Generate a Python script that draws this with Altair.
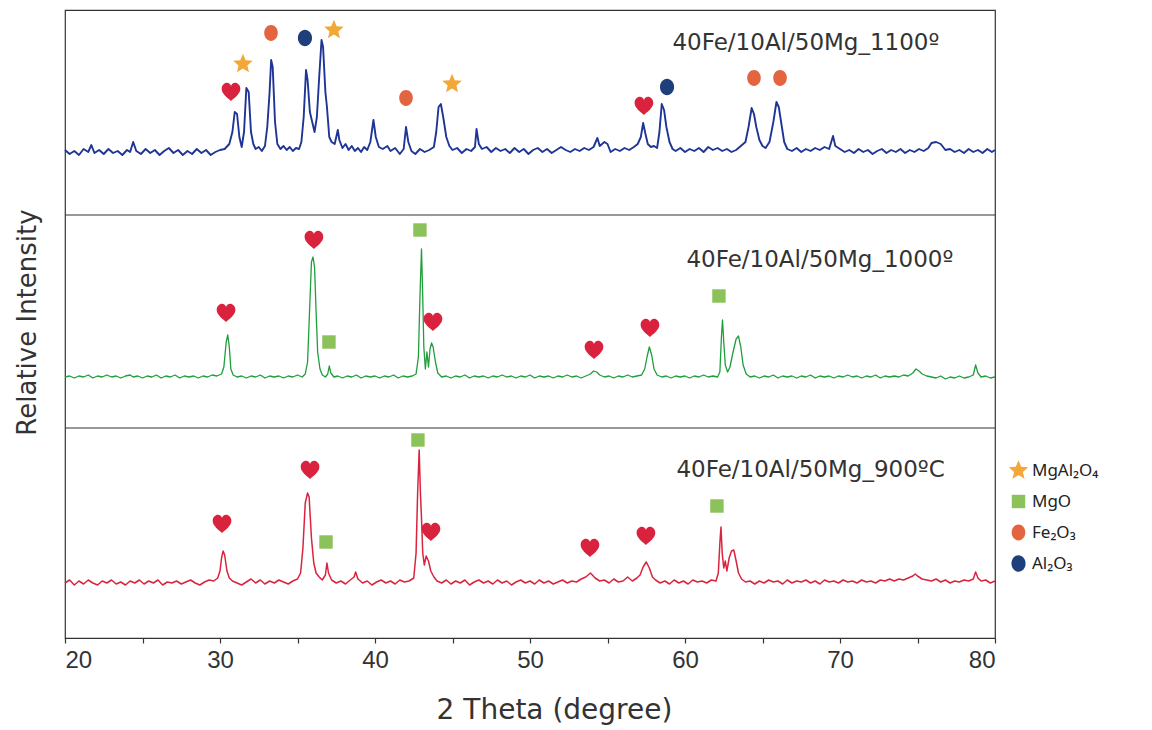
import altair as alt
import pandas as pd

# ---------------- data (2-theta in degrees, relative intensity above each pattern's baseline) -------------
PATTERN_1100 = [
    (20.0, 2), (20.3, -2), (20.6, 1), (20.9, -3), (21.2, 3), (21.5, 0), (21.7, 7), (21.9, -1), (22.2, 2),
    (22.5, -2), (22.8, 3), (23.1, -1), (23.4, 1), (23.7, -3), (24.0, 2), (24.2, 0), (24.4, 10), (24.6, 1),
    (24.9, -2), (25.2, 3), (25.5, -1), (25.8, 2), (26.1, -3), (26.4, 1), (26.7, 4), (27.0, -1), (27.3, 2),
    (27.6, -3), (27.9, 1), (28.2, -2), (28.5, 3), (28.8, -1), (29.1, 2), (29.4, -3), (29.7, 0), (30.0, 2),
    (30.3, 3), (30.6, 8), (30.8, 20), (30.95, 40), (31.1, 38), (31.25, 15), (31.4, 5), (31.55, 20),
    (31.7, 64), (31.85, 60), (32.0, 20), (32.15, 8), (32.3, 3), (32.5, 5), (32.7, 1), (32.9, 6), (33.05, 25),
    (33.2, 60), (33.3, 92), (33.4, 85), (33.55, 30), (33.7, 8), (33.9, 3), (34.1, 6), (34.3, 2), (34.5, 5),
    (34.7, 1), (34.9, 4), (35.1, 3), (35.25, 10), (35.4, 35), (35.55, 82), (35.65, 72), (35.8, 40),
    (35.95, 30), (36.1, 20), (36.25, 35), (36.4, 75), (36.55, 112), (36.65, 105), (36.8, 60), (36.9, 45),
    (37.05, 15), (37.2, 10), (37.4, 8), (37.6, 22), (37.7, 12), (37.9, 4), (38.1, 8), (38.3, 2), (38.5, 6),
    (38.7, 1), (38.9, 4), (39.1, 0), (39.3, 5), (39.5, 2), (39.7, 10), (39.9, 32), (40.05, 15), (40.25, 5),
    (40.5, 3), (40.8, 6), (41.0, 1), (41.3, 4), (41.6, -2), (41.85, 3), (42.0, 25), (42.15, 10), (42.35, 1),
    (42.6, -2), (42.9, 3), (43.2, 0), (43.5, 2), (43.8, 5), (43.95, 20), (44.1, 45), (44.25, 48), (44.4, 35),
    (44.6, 15), (44.8, 6), (45.0, 2), (45.3, 4), (45.6, -1), (45.9, 3), (46.2, 1), (46.45, 5), (46.55, 23),
    (46.7, 8), (46.9, 3), (47.2, 5), (47.5, 0), (47.8, 4), (48.1, 1), (48.4, 3), (48.7, -1), (49.0, 4),
    (49.3, 0), (49.6, 3), (49.9, -2), (50.2, 2), (50.5, 4), (50.8, 0), (51.1, 3), (51.4, -1), (51.7, 2),
    (52.0, 5), (52.3, 2), (52.6, 0), (52.9, 3), (53.2, 1), (53.5, 4), (53.8, 2), (54.1, 5), (54.35, 14),
    (54.5, 6), (54.8, 10), (55.0, 8), (55.2, 0), (55.5, 3), (55.8, 1), (56.1, 4), (56.4, 2), (56.7, 5),
    (56.95, 8), (57.15, 15), (57.3, 29), (57.45, 18), (57.6, 8), (57.8, 5), (58.0, 6), (58.2, 4), (58.35, 20),
    (58.5, 48), (58.65, 42), (58.8, 25), (59.0, 10), (59.2, 3), (59.4, 1), (59.7, 4), (60.0, 0), (60.3, 3),
    (60.6, 1), (60.9, 4), (61.2, 0), (61.5, 5), (61.8, 2), (62.1, 4), (62.4, 1), (62.7, 3), (63.0, 0),
    (63.3, 2), (63.6, 6), (63.9, 10), (64.1, 25), (64.3, 44), (64.45, 38), (64.6, 25), (64.8, 12), (65.0, 6),
    (65.2, 4), (65.45, 10), (65.7, 30), (65.9, 50), (66.05, 45), (66.25, 25), (66.4, 10), (66.6, 3),
    (66.9, 1), (67.2, 4), (67.5, 0), (67.8, 3), (68.1, 1), (68.4, 4), (68.7, 2), (69.0, 5), (69.3, 3),
    (69.55, 16), (69.7, 6), (70.0, 3), (70.3, 0), (70.6, 2), (70.9, -1), (71.2, 3), (71.5, 0), (71.8, 2),
    (72.1, -2), (72.4, 1), (72.7, 3), (73.0, -1), (73.3, 2), (73.6, 0), (73.9, 3), (74.2, -1), (74.5, 2),
    (74.8, 0), (75.1, 3), (75.4, 1), (75.7, 4), (75.9, 9), (76.2, 10), (76.5, 8), (76.8, 2), (77.1, 3),
    (77.4, 0), (77.7, 2), (78.0, -1), (78.3, 3), (78.6, 0), (78.9, 2), (79.2, -1), (79.5, 3), (79.8, 0),
    (80.0, 2),
]

PATTERN_1000 = [
    (20.0, 0), (20.3, 1), (20.6, -1), (20.9, 1), (21.2, 0), (21.5, 2), (21.8, -1), (22.1, 1), (22.4, 0),
    (22.7, 2), (23.0, 0), (23.3, 1), (23.6, -1), (23.9, 1), (24.2, 2), (24.4, 0), (24.7, 1), (25.0, -1),
    (25.3, 1), (25.6, 0), (25.9, 2), (26.2, -1), (26.5, 1), (26.8, 0), (27.1, 2), (27.4, -1), (27.7, 1),
    (28.0, 0), (28.3, 1), (28.6, -1), (28.9, 1), (29.2, 0), (29.5, 2), (29.8, 1), (30.1, 3), (30.25, 10),
    (30.4, 35), (30.5, 42), (30.6, 30), (30.7, 8), (30.85, 2), (31.1, 0), (31.4, 1), (31.7, -1), (32.0, 1),
    (32.3, 0), (32.6, 2), (32.9, -1), (33.2, 1), (33.5, 0), (33.8, 1), (34.1, -1), (34.4, 1), (34.7, 0),
    (35.0, 2), (35.3, 0), (35.5, 3), (35.65, 15), (35.8, 75), (35.9, 115), (36.0, 120), (36.1, 110),
    (36.2, 65), (36.3, 25), (36.45, 8), (36.6, 2), (36.8, 0), (36.95, 3), (37.05, 11), (37.15, 4), (37.35, 0),
    (37.6, 1), (37.9, -1), (38.2, 1), (38.5, 0), (38.8, 2), (39.1, -1), (39.4, 1), (39.7, 0), (40.0, 1),
    (40.3, -1), (40.6, 1), (40.9, 0), (41.2, 2), (41.5, -1), (41.8, 1), (42.1, 0), (42.4, 1), (42.65, 3),
    (42.8, 20), (42.9, 80), (43.0, 128), (43.08, 80), (43.15, 30), (43.25, 8), (43.35, 25), (43.45, 10),
    (43.55, 28), (43.65, 34), (43.75, 30), (43.9, 15), (44.05, 4), (44.3, 0), (44.6, 1), (44.9, -1),
    (45.2, 1), (45.5, 0), (45.8, 2), (46.1, -1), (46.4, 1), (46.7, 0), (47.0, 1), (47.3, -1), (47.6, 1),
    (47.9, 0), (48.2, 2), (48.5, 0), (48.8, 1), (49.1, -1), (49.4, 1), (49.7, 0), (50.0, 2), (50.3, -1),
    (50.6, 1), (50.9, 0), (51.2, 1), (51.5, -1), (51.8, 1), (52.1, 0), (52.4, 2), (52.7, 0), (53.0, 1),
    (53.3, -1), (53.6, 1), (53.9, 3), (54.1, 6), (54.3, 5), (54.5, 2), (54.8, 0), (55.1, 1), (55.4, -1),
    (55.7, 1), (56.0, 0), (56.3, 2), (56.6, 0), (56.9, 1), (57.2, 2), (57.4, 8), (57.55, 20), (57.7, 30),
    (57.85, 22), (58.0, 8), (58.2, 2), (58.5, 0), (58.8, 1), (59.1, -1), (59.4, 1), (59.7, 0), (60.0, 1),
    (60.3, -1), (60.6, 1), (60.9, 0), (61.2, 2), (61.5, 0), (61.8, 1), (62.1, 0), (62.25, 5), (62.35, 40),
    (62.42, 57), (62.5, 35), (62.6, 12), (62.75, 5), (62.9, 10), (63.1, 25), (63.3, 38), (63.45, 41),
    (63.6, 30), (63.75, 12), (63.95, 3), (64.2, 0), (64.5, 1), (64.8, -1), (65.1, 1), (65.4, 0), (65.7, 2),
    (66.0, -1), (66.3, 1), (66.6, 0), (66.9, 1), (67.2, -1), (67.5, 1), (67.8, 0), (68.1, 2), (68.4, -1),
    (68.7, 1), (69.0, 0), (69.3, 1), (69.6, -1), (69.9, 1), (70.2, 0), (70.5, 2), (70.8, 0), (71.1, 1),
    (71.4, -1), (71.7, 1), (72.0, 0), (72.3, 2), (72.6, -1), (72.9, 1), (73.2, 0), (73.5, 1), (73.8, 0),
    (74.1, 2), (74.4, 1), (74.7, 4), (74.9, 8), (75.1, 6), (75.3, 3), (75.6, 1), (75.9, 0), (76.2, -1),
    (76.5, 1), (76.8, -2), (77.1, 0), (77.4, -1), (77.7, 1), (78.0, -1), (78.3, 0), (78.6, 2), (78.75, 12),
    (78.9, 4), (79.1, 0), (79.4, 1), (79.7, -1), (80.0, 0),
]

PATTERN_900 = [
    (20.0, 0), (20.3, 3), (20.6, -2), (20.9, 2), (21.2, -1), (21.5, 3), (21.8, 0), (22.1, -2), (22.4, 2),
    (22.7, 0), (23.0, 3), (23.3, -1), (23.6, 1), (23.9, -2), (24.2, 2), (24.5, 0), (24.8, 3), (25.1, -1),
    (25.4, 2), (25.7, 0), (26.0, 3), (26.3, -2), (26.6, 1), (26.9, 0), (27.2, 2), (27.5, -1), (27.8, 1),
    (28.1, 3), (28.4, 0), (28.7, -2), (29.0, 1), (29.3, 3), (29.6, 2), (29.85, 5), (30.0, 12), (30.1, 25),
    (30.2, 32), (30.3, 28), (30.45, 12), (30.6, 5), (30.8, 2), (31.1, 0), (31.4, -2), (31.7, 1), (32.0, 4),
    (32.3, 0), (32.6, 3), (32.9, -1), (33.2, 2), (33.5, 0), (33.8, 3), (34.1, 1), (34.4, -1), (34.7, 2),
    (35.0, 4), (35.2, 10), (35.35, 35), (35.5, 80), (35.65, 90), (35.75, 86), (35.9, 45), (36.05, 20),
    (36.2, 10), (36.4, 6), (36.6, 3), (36.8, 8), (36.9, 20), (37.0, 10), (37.2, 3), (37.5, 0), (37.8, 2),
    (38.1, -1), (38.4, 3), (38.65, 6), (38.75, 11), (38.9, 4), (39.2, 0), (39.5, 2), (39.8, -2), (40.1, 1),
    (40.4, 3), (40.7, 0), (41.0, 2), (41.3, -1), (41.6, 3), (41.9, 1), (42.2, 2), (42.5, 5), (42.65, 30),
    (42.75, 90), (42.85, 133), (42.93, 90), (43.0, 65), (43.08, 30), (43.18, 18), (43.3, 27), (43.45, 22),
    (43.6, 12), (43.8, 6), (44.0, 2), (44.3, 0), (44.6, 3), (44.9, -1), (45.2, 2), (45.5, 0), (45.8, 3),
    (46.1, -2), (46.4, 1), (46.7, 3), (47.0, 0), (47.3, 2), (47.6, -1), (47.9, 3), (48.2, 0), (48.5, 2),
    (48.8, -2), (49.1, 1), (49.4, 3), (49.7, 0), (50.0, 2), (50.3, -1), (50.6, 3), (50.9, 0), (51.2, 2),
    (51.5, -1), (51.8, 1), (52.1, 3), (52.4, 0), (52.7, 2), (53.0, 1), (53.3, 4), (53.6, 6), (53.9, 10),
    (54.2, 5), (54.5, 2), (54.8, 3), (55.1, 0), (55.4, 4), (55.7, 1), (56.0, 2), (56.3, 6), (56.6, 2),
    (56.9, 5), (57.1, 8), (57.3, 16), (57.5, 21), (57.7, 15), (57.9, 6), (58.1, 3), (58.4, 0), (58.7, 2),
    (59.0, -1), (59.3, 3), (59.6, 0), (59.9, 2), (60.2, -1), (60.5, 3), (60.8, 1), (61.1, 2), (61.4, 0),
    (61.7, 3), (62.0, 2), (62.15, 10), (62.25, 40), (62.32, 56), (62.4, 30), (62.5, 15), (62.6, 22),
    (62.7, 12), (62.85, 25), (63.0, 32), (63.15, 33), (63.3, 22), (63.45, 10), (63.65, 4), (63.9, 1),
    (64.2, 2), (64.5, -1), (64.8, 2), (65.1, 0), (65.4, 3), (65.7, 1), (66.0, 2), (66.3, -1), (66.6, 3),
    (66.9, 0), (67.2, 2), (67.5, 1), (67.8, 3), (68.1, 0), (68.4, 2), (68.7, -1), (69.0, 3), (69.3, 1),
    (69.6, 2), (69.9, 0), (70.2, 3), (70.5, 1), (70.8, 2), (71.1, 0), (71.4, 3), (71.7, 1), (72.0, 2),
    (72.3, 0), (72.6, 3), (72.9, 2), (73.2, 4), (73.5, 2), (73.8, 4), (74.1, 3), (74.4, 5), (74.7, 7),
    (74.85, 9), (75.0, 7), (75.3, 4), (75.6, 3), (75.9, 2), (76.2, 4), (76.5, 1), (76.8, 3), (77.1, 0),
    (77.4, 2), (77.7, 1), (78.0, 3), (78.3, 2), (78.6, 4), (78.75, 11), (78.9, 5), (79.1, 2), (79.4, 3),
    (79.7, 0), (80.0, 2),
]

# phase markers: (2-theta, height above the pattern's baseline, phase)
MARKERS_1100 = [
    (30.71, 60, "Fe"), (31.48, 88, "MgAl₂O₄"), (33.29, 119, "Fe₂O₃"), (35.48, 114, "Al₂O₃"),
    (37.35, 122, "MgAl₂O₄"), (42.0, 54, "Fe₂O₃"), (44.97, 68, "MgAl₂O₄"), (57.35, 46, "Fe"),
    (58.84, 65, "Al₂O₃"), (64.45, 74, "Fe₂O₃"), (66.13, 74, "Fe₂O₃"),
]
MARKERS_1000 = [
    (30.39, 64, "Fe"), (36.06, 137, "Fe"), (37.03, 35, "MgO"), (42.9, 147, "MgO"),
    (43.74, 55, "Fe"), (54.13, 27, "Fe"), (57.74, 49, "Fe"), (62.19, 81, "MgO"),
]
MARKERS_900 = [
    (30.13, 59, "Fe"), (35.81, 113, "Fe"), (36.84, 41, "MgO"), (42.77, 143, "MgO"),
    (43.61, 51, "Fe"), (53.87, 35, "Fe"), (57.48, 47, "Fe"), (62.06, 77, "MgO"),
]

SAMPLES = ["1100", "1000", "900"]
SAMPLE_LABELS = ["40Fe/10Al/50Mg_1100º", "40Fe/10Al/50Mg_1000º", "40Fe/10Al/50Mg_900ºC"]
LABEL_TTH = [67.8, 68.7, 68.1]
LABEL_HEIGHT = [109, 117, 113]
LINE_COLORS = ["#1f3596", "#1f9e3c", "#d9243f"]
LINE_WIDTHS = [1.9, 1.3, 1.5]

PHASES = ["MgAl₂O₄", "MgO", "Fe₂O₃", "Al₂O₃"]
PHASE_COLORS = ["#f2a838", "#8cc25a", "#e2653f", "#1f3f7c"]
PHASE_SIZES = [420, 180, 250, 270]

# ---------------- layout helpers ----------------
BASE = {"1100": 486, "1000": 261, "900": 55}   # vertical stacking offsets of the three patterns
DIVIDERS = [210, 423]

STAR = ("M0,-1L0.265,-0.364L0.951,-0.309L0.428,0.139L0.588,0.809L0,0.45L-0.588,0.809"
        "L-0.428,0.139L-0.951,-0.309L-0.265,-0.364Z")
OVAL = ("M0,-1C0.475,-1,0.86,-0.552,0.86,0C0.86,0.552,0.475,1,0,1"
        "C-0.475,1,-0.86,0.552,-0.86,0C-0.86,-0.552,-0.475,-1,0,-1Z")
HEART = ("M0,0.95C-0.35,0.65,-1,0.2,-1,-0.35C-1,-0.75,-0.7,-1,-0.45,-1C-0.2,-1,-0.05,-0.85,0,-0.65"
         "C0.05,-0.85,0.2,-1,0.45,-1C0.7,-1,1,-0.75,1,-0.35C1,0.2,0.35,0.65,0,0.95Z")

patterns = {"1100": PATTERN_1100, "1000": PATTERN_1000, "900": PATTERN_900}
markers = {"1100": MARKERS_1100, "1000": MARKERS_1000, "900": MARKERS_900}

line_rows, mark_rows = [], []
for s in SAMPLES:
    for t, v in patterns[s]:
        line_rows.append({"sample": s, "tth": t, "intensity": v, "base": BASE[s]})
    for t, v, p in markers[s]:
        mark_rows.append({"sample": s, "tth": t, "intensity": v, "base": BASE[s], "phase": p})
lines_df = pd.DataFrame(line_rows)
marks_df = pd.DataFrame(mark_rows)
labels_df = pd.DataFrame({
    "sample": SAMPLES, "label": SAMPLE_LABELS, "tth": LABEL_TTH,
    "intensity": LABEL_HEIGHT, "base": [BASE[s] for s in SAMPLES],
})
div_df = pd.DataFrame({"y": DIVIDERS})

x_scale = alt.Scale(domain=[20, 80], nice=False, zero=False)
y_scale = alt.Scale(domain=[0, 628], nice=False, zero=False)

x_axis = alt.Axis(
    values=list(range(20, 81, 5)), labelExpr="datum.value % 10 == 0 ? datum.label : ''",
    grid=False, domain=False, tickSize=5, tickColor="#333", tickWidth=1.2,
    labelFont="Liberation Sans", labelFontSize=24, labelColor="#333", labelPadding=5,
    title="2 Theta (degree)", titleFont="DejaVu Sans", titleFontSize=28, titleFontWeight="normal",
    titleColor="#333", titleX=489, titleY=80, titleBaseline="alphabetic", titleAlign="center",
)
y_axis = alt.Axis(
    labels=False, ticks=False, domain=False, grid=False,
    title="Relative Intensity", titleFont="DejaVu Sans", titleFontSize=26, titleFontWeight="normal",
    titleColor="#333", titleX=-38, titleY=312, titleAngle=270, titleAlign="center", titleBaseline="middle",
)

base = alt.Chart(lines_df)

line_layers = []
for s, c, w in zip(SAMPLES, LINE_COLORS, LINE_WIDTHS):
    line_layers.append(
        base.transform_filter(alt.datum.sample == s)
        .transform_calculate(y="datum.intensity + datum.base")
        .mark_line(color=c, strokeWidth=w, strokeJoin="round")
        .encode(
            x=alt.X("tth:Q", scale=x_scale, axis=x_axis),
            y=alt.Y("y:Q", scale=y_scale, axis=y_axis),
            order="tth:Q",
        )
    )

dividers = alt.Chart(div_df).mark_rule(color="#333", strokeWidth=1.2).encode(y=alt.Y("y:Q", scale=y_scale))

hearts = (
    alt.Chart(marks_df)
    .transform_filter(alt.datum.phase == "Fe")
    .transform_calculate(y="datum.intensity + datum.base")
    .mark_point(shape=HEART, filled=True, color="#d9223d", size=350, opacity=1, strokeWidth=0)
    .encode(x=alt.X("tth:Q", scale=x_scale), y=alt.Y("y:Q", scale=y_scale))
)

legend = alt.Legend(
    title=None, orient="none", legendX=943, legendY=450, padding=0,
    labelFont="Noto Sans", labelFontSize=17, labelColor="#222", labelOffset=3,
    symbolSize=260, symbolStrokeWidth=0, symbolOpacity=1, rowPadding=13,
)
phase_points = (
    alt.Chart(marks_df)
    .transform_filter(alt.datum.phase != "Fe")
    .transform_calculate(y="datum.intensity + datum.base")
    .mark_point(filled=True, opacity=1, strokeWidth=0)
    .encode(
        x=alt.X("tth:Q", scale=x_scale),
        y=alt.Y("y:Q", scale=y_scale),
        color=alt.Color("phase:N", scale=alt.Scale(domain=PHASES, range=PHASE_COLORS), legend=legend),
        shape=alt.Shape("phase:N", scale=alt.Scale(domain=PHASES, range=[STAR, "square", OVAL, OVAL]),
                        legend=legend),
        size=alt.Size("phase:N", scale=alt.Scale(type="ordinal", domain=PHASES, range=PHASE_SIZES),
                      legend=None),
    )
)

labels = (
    alt.Chart(labels_df)
    .transform_calculate(y="datum.intensity + datum.base")
    .mark_text(font="DejaVu Sans", fontSize=23, color="#333", align="center", baseline="middle")
    .encode(x=alt.X("tth:Q", scale=x_scale), y=alt.Y("y:Q", scale=y_scale), text="label:N")
)

chart = (
    alt.layer(*line_layers, dividers, hearts, phase_points, labels)
    .properties(
        width=930, height=628,
        padding={"left": 57, "top": 2, "right": 140, "bottom": 92},
        autosize=alt.AutoSizeParams(type="none"),
        background="white",
    )
    .configure_view(stroke="#333", strokeWidth=1.2)
)

chart.save("out.html", embed_options={"renderer": "svg", "actions": False})
